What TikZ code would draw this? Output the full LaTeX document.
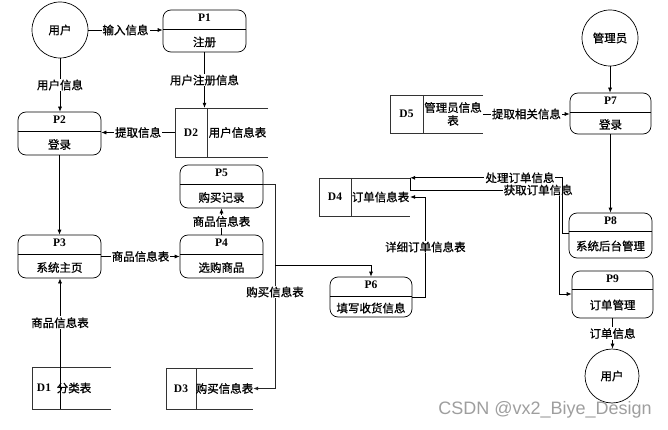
\documentclass[tikz,border=0pt]{standalone}
\usepackage{fontspec}
\setmainfont{Liberation Serif}
\newfontfamily\cjk{Noto Sans CJK SC}[FakeBold=0.8]
\newfontfamily\wmfont{Liberation Sans}
\usetikzlibrary{arrows.meta,calc}
\tikzset{
  lab/.style={font=\cjk\fontsize{11.5}{12}\selectfont, fill=white, inner sep=1pt},
  txt/.style={font=\cjk\fontsize{11.5}{13}\selectfont, inner sep=0pt, align=center},
  pid/.style={font=\bfseries\fontsize{11.5}{12}\selectfont, inner sep=0pt},
  procbox/.style={draw, rounded corners=8pt, inner sep=0pt, line width=0.7pt},
  ent/.style={draw, circle, inner sep=0pt, line width=0.7pt, font=\cjk\fontsize{11.5}{12}\selectfont},
  arr/.style={-{Latex[length=5pt,width=4pt]}, line width=0.7pt},
  ln/.style={line width=0.7pt},
  storeln/.style={line width=0.8pt, draw=black!80},
}
\newcommand\procnode[8]{%
  \pgfmathsetmacro\pcx{(#2+#4)/2}%
  \pgfmathsetmacro\pcy{(#3+#5)/2}%
  \pgfmathsetmacro\pw{#4-#2}%
  \pgfmathsetmacro\ph{#5-#3}%
  \pgfmathsetmacro\pya{(#3+#6)/2}%
  \pgfmathsetmacro\pyb{(#6+#5)/2}%
  \node[procbox, minimum width=\pw pt, minimum height=\ph pt] (#1) at (\pcx,\pcy) {};
  \draw[ln] (#2,#6) -- (#4,#6);
  \node[pid, yshift=1.5pt] at (\pcx,\pya) {#7};
  \node[txt, yshift=-1.5pt] at (\pcx,\pyb) {#8};
}
\newcommand\storenode[8]{%
  \pgfmathsetmacro\scx{(#2+#4)/2}%
  \pgfmathsetmacro\scy{(#3+#5)/2}%
  \pgfmathsetmacro\sw{#4-#2}%
  \pgfmathsetmacro\sh{#5-#3}%
  \pgfmathsetmacro\sxa{(#2+#6)/2}%
  \pgfmathsetmacro\sxb{(#6+#4)/2}%
  \node[minimum width=\sw pt, minimum height=\sh pt, inner sep=0pt] (#1) at (\scx,\scy) {};
  \draw[storeln] (#4,#3) -- (#2,#3) -- (#2,#5) -- (#4,#5);
  \draw[storeln] (#6,#3) -- (#6,#5);
  \node[pid] at (\sxa,\scy) {#7};
  \node[txt] at (\sxb,\scy) {#8};
}
\begin{document}
\begin{tikzpicture}[x=1pt,y=-1pt]
\useasboundingbox (0,0) rectangle (668,430);

% external entities
\node[ent, minimum size=56pt] (u1) at (60,30) {用户};
\node[ent, minimum size=56pt] (m) at (610,38) {管理员};
\node[ent, minimum size=54pt] (u2) at (612,376) {用户};

% processes
\procnode{p1}{163}{10}{246}{52}{29}{P1}{注册}
\procnode{p2}{18}{112}{101}{155}{131}{P2}{登录}
\procnode{p3}{18}{235}{101}{278}{254}{P3}{系统主页}
\procnode{p4}{180}{235}{263}{278}{254}{P4}{选购商品}
\procnode{p5}{180}{165}{263}{208}{184}{P5}{购买记录}
\procnode{p6}{330}{277}{412}{317}{296}{P6}{填写收货信息}
\procnode{p7}{570}{93}{651}{134}{112}{P7}{登录}
\procnode{p8}{569}{213}{652}{258}{231}{P8}{系统后台管理}
\procnode{p9}{572}{271}{653}{318}{289}{P9}{订单管理}

% data stores
\storenode{d2}{175}{108}{268}{157}{207}{D2}{用户信息表}
\storenode{d3}{166}{368}{253}{409}{196}{D3}{购买信息表}
\storenode{d4}{319}{178}{410}{216}{351}{D4}{订单信息表}
\storenode{d5}{390}{95}{483}{133}{423}{D5}{管理员信息\\表}
% D1 (no divider)
\node[minimum width=79pt, minimum height=42pt, inner sep=0pt] (d1) at (71.5,388) {};
\draw[storeln] (111,367) -- (32,367) -- (32,409) -- (111,409);
\node[pid] at (44,388) {D1};
\node[txt] at (74,388) {分类表};
\coordinate (d1b) at (60,409);

% flows
\draw[arr] (u1.east) -- node[lab]{输入信息} (u1.east -| p1.west);
\draw[arr] (u1.south) -- node[lab]{用户信息} (u1.south |- p2.north);
\draw[arr] (p1.south) -- node[lab]{用户注册信息} (p1.south |- d2.north);
\draw[arr] (d2.west) -- node[lab]{提取信息} (d2.west -| p2.east);
\draw[arr] (p2.south) -- (p2.south |- p3.north);
\draw[arr] (p3.east) -- node[lab]{商品信息表} (p4.west);
\draw[arr] (p4.north) -- node[lab]{商品信息表} (p5.south);
\draw[arr] (d1b) -- node[lab, pos=0.66]{商品信息表} (d1b |- p3.south);

\coordinate (k1) at (275,184);
\coordinate (j1) at (275,265);
\draw[arr, line width=0.9pt, draw=black!85] (p5.east |- k1) -- (k1) |- node[lab, pos=0.264]{购买信息表} (d3.east);
\draw[arr] (j1) -| (p6.north);
\draw[arr] (p6.east |- 0,297) -- ++(13,0) |- node[lab, pos=0.25]{详细订单信息表} (d4.east);

\draw[arr] (m.south) -- (m.south |- p7.north);
\draw[arr] (d5.east) -- node[lab]{提取相关信息} (d5.east -| p7.west);
\draw[arr] (p7.south) -- (p7.south |- p8.north);

\coordinate (k5) at (559,190);
\draw[arr] (d4.north east) |- node[lab, pos=0.93]{获取订单信息} (k5) |- (p9.west |- 0,294);
\draw[arr] (p8.west |- 0,233) -- ++(-6,0) |- node[lab, pos=0.64]{处理订单信息} (d4.north east);

\draw[arr] (p9.south) -- node[lab]{订单信息} (p9.south |- u2.north);

% watermark
\node[font=\wmfont\fontsize{18}{18}\selectfont, text=black!38, inner sep=0pt] (wm) at (545,410) {CSDN @vx2\_Biye\_Design};
\end{tikzpicture}
\end{document}
